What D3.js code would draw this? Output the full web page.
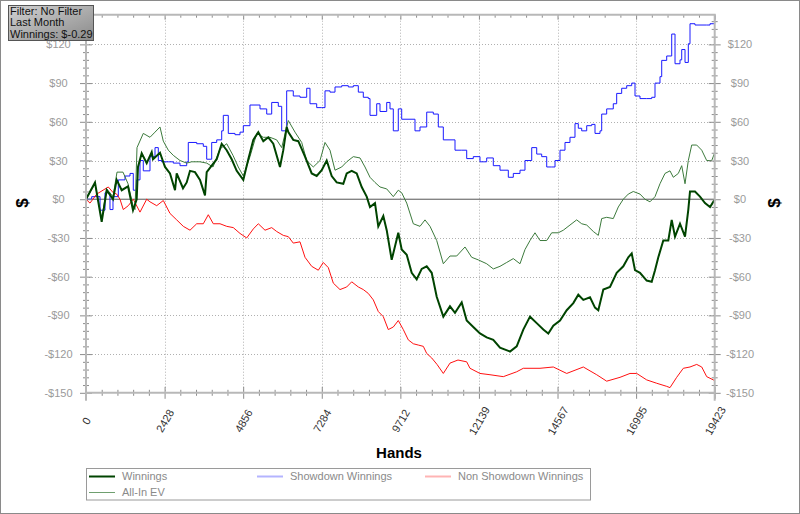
<!DOCTYPE html>
<html>
<head>
<meta charset="utf-8">
<script src="https://cdn.jsdelivr.net/npm/d3@7"></script>
<style>
  body { margin: 0; background: #fff; }
  svg { display: block; font-family: "Liberation Sans", Arial, sans-serif; }
</style>
</head>
<body>
<div id="chart"></div>
<script>
// Tick values
const xTickValues = [0, 2428, 4856, 7284, 9712, 12139, 14567, 16995, 19423];
const yTickValues = [-150, -120, -90, -60, -30, 0, 30, 60, 90, 120];

const seriesNames = ["Winnings", "All-In EV", "Showdown Winnings", "Non Showdown Winnings"];
const infoLines = ["Filter: No Filter", "Last Month", "Winnings: $-0.29"];

// [hands, dollars]
const winnings = [
  [0,0],[278,13],[485,-17.5],[640,7],[834,0],[948,15],[1103,7],[1298,10],[1452,-8.5],[1566,0],
  [1606,25],[1721,35.6],[1875,28],[2030,36.6],[2070,31],[2286,36],[2441,25],[2595,20],[2750,7],
  [2802,20],[2997,8.5],[3111,13],[3213,22],[3367,21],[3522,15],[3676,3],[3729,21],[3883,26],
  [4038,31],[4192,43],[4347,38],[4501,31],[4656,22],[4860,15],[5014,31],[5169,46],[5323,52],
  [5478,45],[5632,48],[5786,43],[5993,25],[6095,38],[6200,56],[6250,52],[6404,46],[6559,45],
  [6766,33],[6973,20],[7127,18],[7282,22.5],[7436,30],[7591,18],[7745,13],[7949,12],[8054,20],
  [8209,22],[8363,20],[8518,9.5],[8672,2],[8774,-6],[8928,-3],[9030,-21],[9185,-13],[9290,-24],
  [9444,-47],[9648,-26],[9753,-39],[9908,-43],[10062,-57],[10217,-62],[10371,-54],[10526,-52],
  [10680,-57],[10835,-75.6],[11039,-91],[11245,-83],[11400,-88],[11607,-80],[11761,-94],
  [11965,-99],[12172,-104],[12379,-107],[12583,-109],[12790,-115],[13099,-118],[13306,-114],
  [13510,-101],[13717,-91],[13924,-96],[14128,-101],[14282,-104],[14437,-98],[14644,-94],
  [14851,-86],[15055,-80.5],[15209,-74],[15364,-78],[15571,-76],[15725,-84],[15827,-86],
  [15982,-70],[16188,-68],[16395,-57],[16599,-52],[16754,-45],[16859,-42],[16961,-55],
  [17115,-57],[17322,-63],[17477,-64],[17579,-55],[17681,-45],[17835,-32],[17990,-32],
  [18095,-16],[18197,-29],[18351,-19],[18506,-29],[18608,-8],[18660,6],[18814,6],[18969,2],
  [19123,-3],[19278,-6],[19423,-0.29]
];

const allInEV = [
  [0,0],[278,12],[485,-15],[640,8],[834,2],[958,21],[1143,21],[1298,12],[1452,-5],[1514,-8],
  [1576,40],[1770,51],[1977,48],[2132,52],[2286,56],[2388,45],[2543,38],[2697,34],[2904,30],
  [3111,28],[3266,29],[3522,29],[3729,28],[3924,25],[4140,39],[4347,43],[4541,34],[4705,25],
  [4860,18],[5066,33],[5274,51],[5478,48],[5684,48],[5891,46],[6046,40],[6250,61],[6457,52],
  [6664,44],[6818,30],[7022,25],[7229,30],[7384,44],[7538,38],[7693,22.5],[7900,25],[8054,29],
  [8258,33],[8465,32],[8619,25],[8774,17],[8928,13],[9083,9.5],[9290,8],[9494,2],[9648,7],
  [9753,5],[9908,-3],[10112,-19],[10319,-21],[10473,-16],[10628,-21],[10835,-32],[11039,-50],
  [11245,-44],[11452,-44],[11709,-37],[11916,-45],[12120,-47],[12379,-50],[12583,-54],
  [12790,-52],[12997,-49],[13201,-46],[13408,-50],[13562,-39],[13717,-32],[13871,-26],
  [14026,-32],[14233,-32],[14387,-26],[14591,-26],[14746,-24],[14952,-20],[15159,-16],
  [15314,-19],[15469,-20],[15673,-25],[15827,-28],[15932,-15],[16086,-14],[16290,-15],
  [16445,-6],[16599,0],[16754,4],[16908,6],[17115,4],[17269,0],[17424,-2],[17579,2],
  [17733,12],[17888,20],[18042,22],[18144,17],[18299,20],[18404,26],[18506,12],[18608,30],
  [18713,42],[18867,42],[19022,38],[19176,30],[19331,30],[19423,36]
];

const showdown = [
  [0,0],[176,2],[433,-8.5],[587,5],[741,-8],[834,2],[998,15],[1205,18],[1359,20],[1461,7],
  [1566,15],[1668,30],[1770,22],[1977,33],[2132,40],[2234,30],[2339,29],[2543,29],[2697,28],
  [2904,26],[3111,29],[3160,44],[3420,43],[3624,41],[3729,31],[3883,44],[4038,46],[4192,53],
  [4242,65],[4396,51],[4603,50],[4758,52],[4860,57],[5066,73],[5376,70],[5583,66],[5737,75],
  [5941,72],[6046,53],[6200,84],[6404,80],[6611,79],[6818,86],[6920,74],[7127,71],[7282,71],
  [7384,84],[7538,83],[7693,87],[7900,88],[8104,87],[8258,88],[8413,83],[8567,79],[8721,78],
  [8774,65],[8981,74],[9083,68],[9290,75],[9392,70],[9494,53],[9648,70],[9753,62],[10010,62],
  [10164,53],[10319,56],[10526,67.5],[10730,66],[10884,56],[11039,46],[11245,46],[11400,38],
  [11607,38],[11761,31.5],[11965,33],[12172,29],[12379,32],[12583,26],[12790,22.5],[13047,17],
  [13201,20],[13408,22.5],[13562,30],[13770,40],[13924,35],[14078,33],[14233,25],[14387,25],
  [14490,30],[14644,38],[14798,44],[14952,48],[15107,58.6],[15209,55],[15314,53],[15469,57],
  [15623,58],[15725,51],[15880,53],[15932,66],[16086,70],[16290,74],[16395,82],[16549,86],
  [16704,88],[16859,90],[16961,80],[17115,78],[17322,78],[17477,79],[17579,90],[17733,95],
  [17786,107.6],[17940,111],[18095,128],[18197,105],[18351,108],[18404,116],[18506,106],
  [18608,120.5],[18660,136],[18814,135],[18969,135],[19176,135],[19278,136],[19423,142]
];

const nonShowdown = [
  [0,0],[124,-3],[331,4],[689,9.5],[843,5],[948,4],[1050,0],[1152,-8],[1307,-5],[1461,0],
  [1668,-10],[1875,0],[1977,-2],[2184,-5],[2388,-1],[2595,-11],[2802,-16],[3006,-21],[3213,-24],
  [3420,-19],[3624,-19],[3778,-12],[3933,-19],[4140,-19],[4347,-21],[4551,-22],[4758,-26.5],
  [4965,-30],[5169,-23],[5323,-19],[5530,-24],[5737,-22],[5891,-25],[6095,-28],[6250,-29],
  [6404,-34],[6611,-33],[6766,-45],[6973,-52],[7177,-55],[7331,-49],[7486,-53],[7640,-65],
  [7847,-70],[8054,-68],[8209,-64],[8413,-68],[8567,-70],[8721,-73],[8876,-78],[9030,-87],
  [9185,-91],[9339,-101],[9494,-99],[9648,-94],[9803,-101],[9957,-109],[10112,-112],
  [10266,-113],[10421,-114],[10526,-119.5],[10680,-123],[10844,-128],[11039,-135],[11245,-127],
  [11492,-124.6],[11761,-126],[11863,-131],[12172,-135],[12481,-136],[12892,-137.5],
  [13306,-133.7],[13510,-131],[14026,-131],[14437,-130],[14851,-135],[15364,-130],[15777,-136],
  [16086,-141],[16498,-138],[16806,-135],[17013,-135],[17322,-140],[17631,-142.6],[17940,-145],
  [18042,-146],[18249,-138],[18453,-131],[18660,-130],[18867,-128],[19022,-130],[19176,-137.5],
  [19382,-140],[19423,-141]
];

const W = 800, H = 514;
const svg = d3.select("#chart").append("svg")
    .attr("width", W)
    .attr("height", H);

// outer frame
svg.append("rect")
    .attr("x", 0.5).attr("y", 0.5)
    .attr("width", W - 1).attr("height", H - 1)
    .attr("fill", "#fff")
    .attr("stroke", "#8a8a8a");

const x = d3.scaleLinear().domain([0, 19423]).range([86, 714.7]);
const y = d3.scaleLinear().domain([-150, 143]).range([392.8, 14.7]);
const [x0, x1] = x.range();
const [y0, y1] = y.range();

// minor ticks: 5 steps between majors
const xMinor = [];
for (let i = 0; i < xTickValues.length - 1; i++) {
    const a = xTickValues[i], b = xTickValues[i + 1];
    for (let k = 1; k < 5; k++) xMinor.push(a + (b - a) * k / 5);
}
const yMinor = d3.range(-150, 143, 6).filter(v => v % 30 !== 0);

// grid lines
const grid = svg.append("g").attr("stroke", "#b0b0b0").attr("stroke-dasharray", "1,2");
grid.selectAll(".hgrid")
    .data(yTickValues.filter(v => v !== -150 && v !== 0))
    .enter().append("line")
    .attr("x1", x0).attr("x2", x1)
    .attr("y1", d => Math.round(y(d)) + 0.5).attr("y2", d => Math.round(y(d)) + 0.5);
grid.selectAll(".vgrid")
    .data(xTickValues.slice(1, -1))
    .enter().append("line")
    .attr("y1", y1).attr("y2", y0)
    .attr("x1", d => Math.round(x(d)) + 0.5).attr("x2", d => Math.round(x(d)) + 0.5);

// zero line
svg.append("line")
    .attr("x1", x0).attr("x2", x1)
    .attr("y1", y(0)).attr("y2", y(0))
    .attr("stroke", "#555").attr("stroke-width", 1);

// series
svg.append("defs").append("clipPath").attr("id", "plot-clip")
    .append("rect").attr("x", x0).attr("y", y1 - 1)
    .attr("width", x1 - x0 + 1).attr("height", y0 - y1 + 2);

const line = d3.line().x(d => x(d[0])).y(d => y(d[1]));
const stepLine = d3.line().x(d => x(d[0])).y(d => y(d[1])).curve(d3.curveStepAfter);

const plot = svg.append("g").attr("clip-path", "url(#plot-clip)").attr("fill", "none");
plot.append("path").datum(showdown).attr("d", stepLine)
    .attr("stroke", "#1a1aff").attr("stroke-width", 1);
plot.append("path").datum(nonShowdown).attr("d", line)
    .attr("stroke", "#ff1010").attr("stroke-width", 1);
plot.append("path").datum(allInEV).attr("d", line)
    .attr("stroke", "#3c7a3c").attr("stroke-width", 1);
plot.append("path").datum(winnings).attr("d", line)
    .attr("stroke", "#004400").attr("stroke-width", 2);

// axes
function styleAxis(g, cross) {
    g.select(".domain").remove();
    g.selectAll(".tick line").attr("stroke", "#8c8c8c");
    if (cross) cross(g);
}

const axisColor = "#b8b8b8";

// left
svg.append("g").attr("transform", `translate(${x0},0)`)
    .call(d3.axisLeft(y).tickValues(yMinor).tickSize(3).tickFormat(""))
    .call(g => styleAxis(g, g => g.selectAll(".tick line").attr("x1", 3)));
svg.append("g").attr("transform", `translate(${x0},0)`)
    .call(d3.axisLeft(y).tickValues(yTickValues).tickSize(6).tickFormat(d => (d < 0 ? "-$" : "$") + Math.abs(d)))
    .call(g => styleAxis(g, g => g.selectAll(".tick line").attr("x1", 6)))
    .call(g => g.selectAll(".tick text")
        .attr("x", 58.5 - x0).attr("text-anchor", "middle")
        .attr("fill", "#9a9a9a").attr("font-size", 11).attr("font-family", null));

// right
svg.append("g").attr("transform", `translate(${x1},0)`)
    .call(d3.axisRight(y).tickValues(yMinor).tickSize(3).tickFormat(""))
    .call(g => styleAxis(g, g => g.selectAll(".tick line").attr("x1", -3)));
svg.append("g").attr("transform", `translate(${x1},0)`)
    .call(d3.axisRight(y).tickValues(yTickValues).tickSize(6).tickFormat(d => (d < 0 ? "-$" : "$") + Math.abs(d)))
    .call(g => styleAxis(g, g => g.selectAll(".tick line").attr("x1", -6)))
    .call(g => g.selectAll(".tick text")
        .attr("x", 740 - x1).attr("text-anchor", "middle")
        .attr("fill", "#9a9a9a").attr("font-size", 11).attr("font-family", null));

// bottom
svg.append("g").attr("transform", `translate(0,${y0})`)
    .call(d3.axisBottom(x).tickValues(xMinor).tickSize(3).tickFormat(""))
    .call(g => styleAxis(g, g => g.selectAll(".tick line").attr("y1", -3)));
svg.append("g").attr("transform", `translate(0,${y0})`)
    .call(d3.axisBottom(x).tickValues(xTickValues).tickSize(6).tickFormat(d3.format("d")))
    .call(g => styleAxis(g, g => g.selectAll(".tick line").attr("y1", -6)))
    .call(g => g.selectAll(".tick text")
        .attr("y", 0).attr("dy", "0.35em")
        .attr("transform", "translate(0,28) rotate(-60)")
        .attr("text-anchor", "middle")
        .attr("fill", "#333").attr("font-size", 11).attr("font-family", null));

// top
svg.append("g").attr("transform", `translate(0,${y1})`)
    .call(d3.axisBottom(x).tickValues(xMinor).tickSize(3).tickFormat(""))
    .call(g => styleAxis(g));
svg.append("g").attr("transform", `translate(0,${y1})`)
    .call(d3.axisBottom(x).tickValues(xTickValues).tickSize(5).tickFormat(""))
    .call(g => styleAxis(g));

// axis lines
const frame = svg.append("g").attr("stroke", axisColor).attr("stroke-width", 2);
frame.append("line").attr("x1", x0).attr("x2", x0).attr("y1", y1).attr("y2", y0 + 8);
frame.append("line").attr("x1", x1).attr("x2", x1).attr("y1", y1).attr("y2", y0 + 8);
frame.append("line").attr("x1", x0).attr("x2", x1 + 1).attr("y1", y0).attr("y2", y0);
frame.append("line").attr("x1", x0).attr("x2", x1 + 1).attr("y1", y1).attr("y2", y1);

// axis titles
svg.append("text")
    .attr("x", 399).attr("y", 458)
    .attr("text-anchor", "middle")
    .attr("font-size", 15).attr("font-weight", "bold")
    .text("Hands");

[22, 774].forEach(tx => {
    svg.append("text")
        .attr("transform", `translate(${tx},203) rotate(-90)`)
        .attr("text-anchor", "middle")
        .attr("dy", "0.35em")
        .attr("font-size", 17).attr("font-weight", "bold")
        .text("$");
});

// info box
const grad = svg.select("defs").append("linearGradient")
    .attr("id", "info-grad")
    .attr("x1", "0%").attr("y1", "0%").attr("x2", "100%").attr("y2", "100%");
grad.append("stop").attr("offset", "0%").attr("stop-color", "#d2d2d2");
grad.append("stop").attr("offset", "100%").attr("stop-color", "#8a8a8a");

svg.append("rect")
    .attr("x", 8.5).attr("y", 5.5)
    .attr("width", 85).attr("height", 35)
    .attr("fill", "url(#info-grad)")
    .attr("stroke", "#555");

svg.selectAll(".info-line")
    .data(infoLines)
    .enter().append("text")
    .attr("class", "info-line")
    .attr("x", 10).attr("y", (d, i) => 15 + i * 11.3)
    .attr("font-size", 11).attr("fill", "#111")
    .text(d => d);

// legend
const legend = svg.append("g");
legend.append("rect")
    .attr("x", 86.5).attr("y", 468.5)
    .attr("width", 504).attr("height", 31.5)
    .attr("fill", "#fff")
    .attr("stroke", "#9a9a9a");

const legendStyle = [
    { color: "#004400", width: 2, x: 89, y: 476.5 },
    { color: "#6f9f6f", width: 1, x: 89, y: 492.5 },
    { color: "#b4b4ff", width: 2, x: 257, y: 476.5 },
    { color: "#ffb4b4", width: 2, x: 425, y: 476.5 }
];

const items = legend.selectAll(".legend-item")
    .data(seriesNames)
    .enter().append("g")
    .attr("class", "legend-item")
    .attr("transform", (d, i) => `translate(${legendStyle[i].x},${legendStyle[i].y})`);

items.append("line")
    .attr("x1", 0).attr("x2", 26)
    .attr("stroke", (d, i) => legendStyle[i].color)
    .attr("stroke-width", (d, i) => legendStyle[i].width);

items.append("text")
    .attr("x", 33).attr("dy", "0.35em")
    .attr("font-size", 11).attr("fill", "#8a8a8a")
    .text(d => d);
</script>
</body>
</html>
